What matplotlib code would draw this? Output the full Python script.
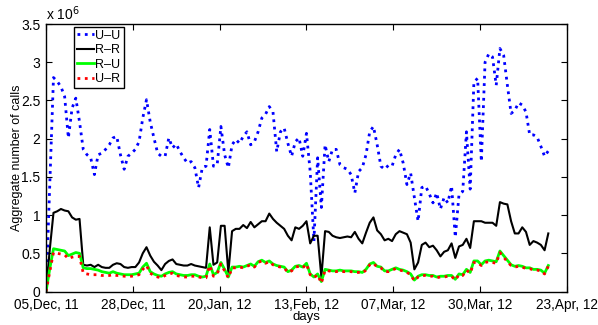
import matplotlib
matplotlib.use("Agg")
import matplotlib.pyplot as plt
import numpy as np

plt.rcParams['font.family'] = ['Liberation Sans', 'DejaVu Sans']

# daily aggregate calls (x 10^6), starting 05 Dec 2011
uu = [0.0, 1.4, 2.80, 2.75, 2.68, 2.55, 2.01, 2.40, 2.53, 2.22,
      1.86, 1.79, 1.75, 1.53, 1.79, 1.81, 1.86, 1.92, 2.01, 2.03,
      1.79, 1.60, 1.77, 1.81, 1.86, 1.96, 2.27, 2.51, 2.22, 2.01,
      1.81, 1.77, 1.77, 2.01, 1.88, 1.93, 1.83, 1.75, 1.68, 1.70,
      1.62, 1.36, 1.62, 1.64, 2.12, 1.64, 1.66, 2.16, 1.79, 1.62,
      1.92, 1.99, 1.94, 2.03, 2.09, 1.92, 1.96, 2.09, 2.27, 2.32,
      2.42, 2.35, 1.83, 2.09, 2.14, 1.94, 1.77, 1.96, 2.01, 1.77,
      2.07, 1.57, 0.66, 1.75, 1.10, 1.92, 1.70, 1.86, 1.86, 1.66,
      1.62, 1.60, 1.53, 1.29, 1.57, 1.62, 1.79, 2.09, 2.16, 1.92,
      1.64, 1.60, 1.65, 1.64, 1.79, 1.86, 1.68, 1.40, 1.55, 1.23,
      0.92, 1.36, 1.38, 1.28, 1.16, 1.29, 1.08, 1.23, 1.16, 1.38,
      0.71, 1.27, 1.31, 2.09, 1.34, 2.74, 2.79, 1.70, 3.00, 3.11,
      3.07, 2.70, 3.18, 3.09, 2.70, 2.33, 2.37, 2.47, 2.44, 2.35,
      2.05, 2.05, 2.02, 1.90, 1.77, 1.84]

rr = [0.0, 0.55, 1.03, 1.05, 1.08, 1.06, 1.05, 0.97, 0.94, 0.95,
      0.35, 0.34, 0.35, 0.32, 0.35, 0.32, 0.31, 0.31, 0.35, 0.37,
      0.36, 0.32, 0.31, 0.32, 0.32, 0.38, 0.50, 0.58, 0.47, 0.39,
      0.34, 0.28, 0.36, 0.40, 0.42, 0.36, 0.35, 0.34, 0.34, 0.36,
      0.34, 0.33, 0.32, 0.31, 0.84, 0.35, 0.38, 0.86, 0.86, 0.25,
      0.79, 0.82, 0.82, 0.87, 0.83, 0.91, 0.84, 0.88, 0.92, 0.92,
      1.02, 0.95, 0.90, 0.86, 0.82, 0.73, 0.67, 0.84, 0.82, 0.86,
      0.92, 0.63, 0.73, 0.73, 0.19, 0.79, 0.78, 0.73, 0.71, 0.70,
      0.71, 0.72, 0.71, 0.78, 0.69, 0.63, 0.77, 0.90, 0.97, 0.80,
      0.75, 0.67, 0.69, 0.66, 0.75, 0.79, 0.77, 0.75, 0.64, 0.29,
      0.38, 0.61, 0.64, 0.58, 0.60, 0.54, 0.46, 0.52, 0.54, 0.63,
      0.44, 0.59, 0.61, 0.69, 0.57, 0.92, 0.92, 0.92, 0.90, 0.90,
      0.90, 0.86, 1.17, 1.15, 1.14, 0.92, 0.76, 0.76, 0.84, 0.78,
      0.61, 0.66, 0.64, 0.61, 0.54, 0.76]

ru = [0.0, 0.30, 0.56, 0.55, 0.54, 0.53, 0.47, 0.49, 0.51, 0.50,
      0.31, 0.30, 0.30, 0.29, 0.28, 0.26, 0.25, 0.24, 0.26, 0.24,
      0.23, 0.22, 0.22, 0.22, 0.23, 0.24, 0.32, 0.37, 0.26, 0.23,
      0.21, 0.20, 0.23, 0.25, 0.26, 0.23, 0.22, 0.21, 0.21, 0.22,
      0.22, 0.20, 0.19, 0.20, 0.36, 0.22, 0.25, 0.38, 0.29, 0.19,
      0.32, 0.32, 0.33, 0.32, 0.34, 0.36, 0.33, 0.39, 0.41, 0.38,
      0.40, 0.36, 0.34, 0.33, 0.32, 0.26, 0.28, 0.33, 0.34, 0.32,
      0.37, 0.23, 0.19, 0.23, 0.13, 0.29, 0.28, 0.27, 0.27, 0.28,
      0.27, 0.27, 0.27, 0.26, 0.26, 0.25, 0.29, 0.36, 0.38, 0.33,
      0.32, 0.27, 0.27, 0.29, 0.31, 0.29, 0.28, 0.26, 0.23, 0.15,
      0.20, 0.22, 0.22, 0.21, 0.21, 0.19, 0.20, 0.20, 0.21, 0.21,
      0.16, 0.23, 0.22, 0.29, 0.25, 0.40, 0.40, 0.35, 0.40, 0.41,
      0.40, 0.39, 0.53, 0.47, 0.41, 0.35, 0.33, 0.34, 0.33, 0.31,
      0.31, 0.29, 0.29, 0.28, 0.24, 0.34]

ur = [0.0, 0.26, 0.51, 0.50, 0.49, 0.48, 0.43, 0.45, 0.46, 0.46,
      0.24, 0.23, 0.22, 0.22, 0.22, 0.21, 0.21, 0.21, 0.22, 0.21,
      0.21, 0.20, 0.20, 0.20, 0.21, 0.22, 0.29, 0.34, 0.24, 0.21,
      0.19, 0.18, 0.21, 0.23, 0.24, 0.21, 0.20, 0.19, 0.19, 0.20,
      0.20, 0.19, 0.18, 0.18, 0.34, 0.20, 0.23, 0.36, 0.27, 0.18,
      0.31, 0.31, 0.32, 0.31, 0.33, 0.35, 0.32, 0.38, 0.40, 0.37,
      0.39, 0.35, 0.33, 0.32, 0.31, 0.25, 0.27, 0.32, 0.33, 0.31,
      0.36, 0.22, 0.18, 0.22, 0.11, 0.28, 0.27, 0.26, 0.26, 0.27,
      0.26, 0.26, 0.26, 0.25, 0.25, 0.24, 0.28, 0.35, 0.37, 0.32,
      0.31, 0.26, 0.26, 0.28, 0.30, 0.28, 0.27, 0.25, 0.22, 0.14,
      0.19, 0.21, 0.21, 0.20, 0.20, 0.18, 0.19, 0.19, 0.20, 0.20,
      0.15, 0.22, 0.21, 0.28, 0.24, 0.38, 0.38, 0.34, 0.38, 0.39,
      0.38, 0.37, 0.51, 0.45, 0.39, 0.34, 0.32, 0.33, 0.32, 0.30,
      0.30, 0.28, 0.28, 0.27, 0.23, 0.33]

tick_labels = ['05,Dec, 11', '28,Dec, 11', '20,Jan, 12', '13,Feb, 12',
               '07,Mar, 12', '30,Mar, 12', '23,Apr, 12']

days = np.arange(len(uu))

fig = plt.figure(figsize=(5.98, 3.25), dpi=100)
ax = fig.add_axes([0.077, 0.103, 0.871, 0.823])

ax.plot(days, uu, ':', color='blue', lw=2.0, label='U\u2013U')
ax.plot(days, rr, '-', color='black', lw=1.5, label='R\u2013R')
ax.plot(days, ru, '-', color='#00ff00', lw=2.0, label='R\u2013U')
ax.plot(days, ur, ':', color='red', lw=2.0, label='U\u2013R')

ax.set_xlim(0, 140)
ax.set_ylim(0, 3.5)
ax.set_xticks(np.linspace(0, 140, 7))
ax.set_xticklabels(tick_labels)
ax.set_yticks(np.arange(0, 3.51, 0.5))
ax.set_yticklabels(['0', '0.5', '1', '1.5', '2', '2.5', '3', '3.5'])
ax.tick_params(direction='in', top=True, right=True, length=4, width=0.8,
               labelsize=10)
ax.tick_params(axis='x', labelsize=9.8, pad=5)
ax.tick_params(axis='y', pad=4)
for s in ax.spines.values():
    s.set_linewidth(1.0)

ax.set_xlabel('days', fontsize=9.5, labelpad=-1)
ax.set_ylabel('Aggregate number of calls', fontsize=9, labelpad=-1)
ax.text(0.0, 1.003, 'x 10$^{6}$', transform=ax.transAxes, fontsize=10,
        ha='left', va='bottom')

leg = ax.legend(loc='upper left', bbox_to_anchor=(0.054, 0.99), borderaxespad=0,
                fancybox=False, edgecolor='black', framealpha=1, fontsize=9,
                handlelength=1.3, handletextpad=0.15, labelspacing=0.2,
                borderpad=0.25)
leg.get_frame().set_linewidth(1.0)

fig.savefig('out.png', dpi=100)
